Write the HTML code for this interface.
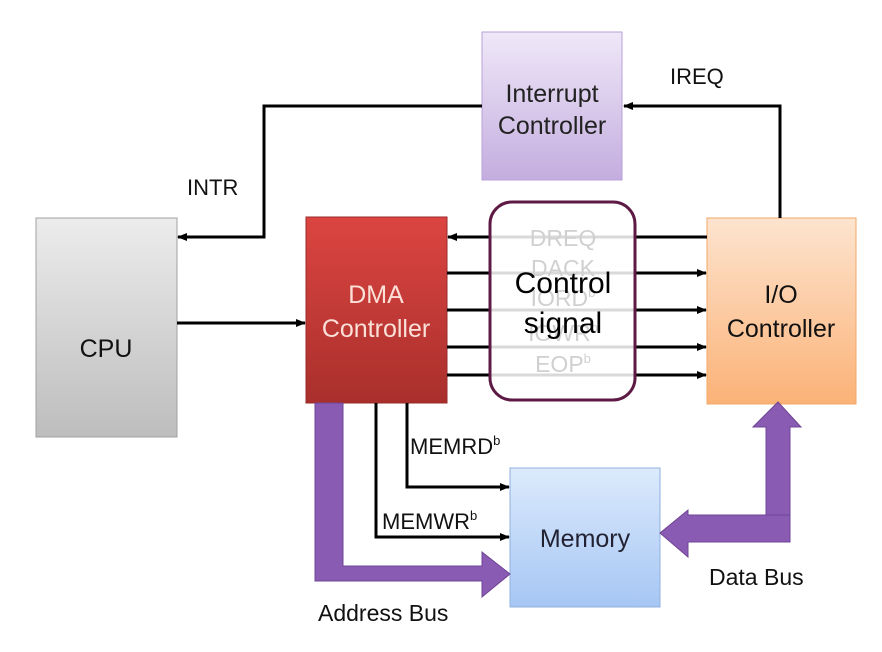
<!DOCTYPE html>
<html><head><meta charset="utf-8"><style>
html,body{margin:0;padding:0;background:#fff;}
svg text{font-family:"Liberation Sans",sans-serif;}
</style></head><body>
<svg width="882" height="647" viewBox="0 0 882 647" xmlns="http://www.w3.org/2000/svg">
<defs>
<linearGradient id="gCpu" x1="0" y1="0" x2="0" y2="1"><stop offset="0" stop-color="#ececec"/><stop offset="1" stop-color="#bdbdbd"/></linearGradient>
<linearGradient id="gDma" x1="0" y1="0" x2="0" y2="1"><stop offset="0" stop-color="#dc4541"/><stop offset="1" stop-color="#a92f2c"/></linearGradient>
<linearGradient id="gIo" x1="0" y1="0" x2="0" y2="1"><stop offset="0" stop-color="#fde4cf"/><stop offset="1" stop-color="#fbb277"/></linearGradient>
<linearGradient id="gInt" x1="0" y1="0" x2="0" y2="1"><stop offset="0" stop-color="#efe8f8"/><stop offset="1" stop-color="#c4addf"/></linearGradient>
<linearGradient id="gMem" x1="0" y1="0" x2="0" y2="1"><stop offset="0" stop-color="#dceafc"/><stop offset="1" stop-color="#a6c6f4"/></linearGradient>
<marker id="ah" markerWidth="10" markerHeight="8" refX="9" refY="4" orient="auto" markerUnits="userSpaceOnUse"><path d="M0,0 L10,4 L0,8 z" fill="#000"/></marker>
</defs>

<rect x="36" y="218" width="141" height="219" fill="url(#gCpu)" stroke="#a0a0a0"/>
<rect x="306" y="217" width="141" height="186" fill="url(#gDma)" stroke="#9a2a28"/>
<rect x="707" y="218" width="149" height="186" fill="url(#gIo)" stroke="#f0a868"/>
<rect x="482" y="32" width="140" height="148" fill="url(#gInt)" stroke="#b8a0d8"/>
<rect x="510" y="468" width="150" height="139" fill="url(#gMem)" stroke="#90b0dc"/>

<polyline points="482,106 264,106 264,237 178,237" fill="none" stroke="#000" stroke-width="3" marker-end="url(#ah)"/>
<polyline points="780,218 780,106 624,106" fill="none" stroke="#000" stroke-width="3" marker-end="url(#ah)"/>
<line x1="177" y1="323" x2="305" y2="323" stroke="#000" stroke-width="3" marker-end="url(#ah)"/>

<line x1="707" y1="237" x2="448" y2="237" stroke="#000" stroke-width="3" marker-end="url(#ah)"/>
<line x1="447" y1="273" x2="706" y2="273" stroke="#000" stroke-width="3" marker-end="url(#ah)"/>
<line x1="447" y1="310" x2="706" y2="310" stroke="#000" stroke-width="3" marker-end="url(#ah)"/>
<line x1="447" y1="347" x2="706" y2="347" stroke="#000" stroke-width="3" marker-end="url(#ah)"/>
<line x1="447" y1="375" x2="706" y2="375" stroke="#000" stroke-width="3" marker-end="url(#ah)"/>

<rect x="490" y="202" width="145" height="198" rx="22" fill="#fff" fill-opacity="0.85" stroke="#5e1a44" stroke-width="3"/>
<g fill="#d0d0d0" font-size="23" text-anchor="middle">
<text x="563" y="246">DREQ</text>
<text x="563" y="276">DACK</text>
<text x="563" y="306">IORD<tspan font-size="13" dy="-9">b</tspan></text>
<text x="563" y="341">IOWR<tspan font-size="13" dy="-9">b</tspan></text>
<text x="563" y="372">EOP<tspan font-size="13" dy="-9">b</tspan></text>
</g>
<text x="563" y="293" font-size="30" text-anchor="middle" fill="#000">Control</text>
<text x="563" y="333" font-size="30" text-anchor="middle" fill="#000">signal</text>

<polyline points="407,403 407,487 509,487" fill="none" stroke="#000" stroke-width="3" marker-end="url(#ah)"/>
<polyline points="376,403 376,537 509,537" fill="none" stroke="#000" stroke-width="3" marker-end="url(#ah)"/>

<path d="M315,403 L343,403 L343,566 L482,566 L482,552 L510,574 L482,597 L482,581 L315,581 Z" fill="#8a5bb3" stroke="#6e4494"/>
<path d="M766,542 L766,427 L753,427 L778,402 L801,427 L790,427 L790,542 Z" fill="#8a5bb3" stroke="#6e4494"/>
<path d="M790,515 L790,542 L688,542 L688,557 L660,533 L688,510 L688,515 Z" fill="#8a5bb3" stroke="#6e4494"/>

<g font-size="25" text-anchor="middle">
<text x="106" y="357" fill="#111">CPU</text>
<text x="376" y="303" fill="#fbe0d8">DMA</text>
<text x="376" y="337" fill="#fbe0d8">Controller</text>
<text x="781" y="303" fill="#111">I/O</text>
<text x="781" y="337" fill="#111">Controller</text>
<text x="552" y="102" fill="#222">Interrupt</text>
<text x="552" y="134" fill="#222">Controller</text>
<text x="585" y="547" fill="#223">Memory</text>
</g>
<g font-size="22" fill="#111">
<text x="187" y="195">INTR</text>
<text x="670" y="84">IREQ</text>
<text x="410" y="454">MEMRD<tspan font-size="13" dy="-9">b</tspan></text>
<text x="382" y="529">MEMWR<tspan font-size="13" dy="-9">b</tspan></text>
<text x="709" y="585" font-size="23">Data Bus</text>
<text x="318" y="621" font-size="23">Address Bus</text>
</g>
</svg>
</body></html>
